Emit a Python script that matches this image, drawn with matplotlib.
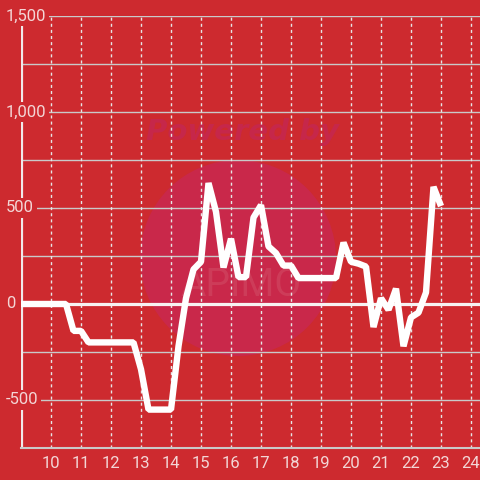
import matplotlib
matplotlib.use("Agg")
import matplotlib.pyplot as plt
from matplotlib.patches import Circle

# data: hour of day vs value, quarter-hour steps
hours = [9.0, 9.25, 9.5, 9.75, 10.0, 10.25, 10.5, 10.75, 11.0, 11.25,
         11.5, 11.75, 12.0, 12.25, 12.5, 12.75, 13.0, 13.25, 13.5, 13.75,
         14.0, 14.25, 14.5, 14.75, 15.0, 15.25, 15.5, 15.75, 16.0, 16.25,
         16.5, 16.75, 17.0, 17.25, 17.5, 17.75, 18.0, 18.25, 18.5, 18.75,
         19.0, 19.25, 19.5, 19.75, 20.0, 20.25, 20.5, 20.75, 21.0, 21.25,
         21.5, 21.75, 22.0, 22.25, 22.5, 22.75, 23.0]
values = [0, 0, 0, 0, 0, 0, 0, -140, -140, -200,
          -200, -200, -200, -200, -200, -200, -340, -550, -550, -550,
          -550, -220, 30, 180, 220, 630, 480, 190, 340, 140,
          140, 450, 515, 300, 265, 200, 200, 135, 135, 135,
          135, 135, 135, 320, 220, 210, 195, -120, 30, -30,
          80, -220, -70, -45, 60, 610, 510]

x_ticks = list(range(10, 25))
y_labels = [-500, 0, 500, 1000, 1500]
y_grid = [-500, -250, 250, 500, 750, 1000, 1250, 1500]

BG = "#cd2a2f"
GRID = "#c9c9c9"
TXT = "#f3d6d6"

plt.rcParams["font.family"] = ["Roboto", "DejaVu Sans"]

fig = plt.figure(figsize=(4.8, 4.8), dpi=100, facecolor=BG)
ax = fig.add_axes([21 / 480, 32 / 480, 459 / 480, 432 / 480])
ax.set_facecolor(BG)
ax.set_xlim(9, 24.3)
ax.set_ylim(-750, 1500)

# watermark
ax.add_patch(Circle((238 / 480, 1 - 258 / 480), 98 / 480, transform=fig.transFigure,
                    facecolor="#c9284a", edgecolor="none", zorder=0.5))
ax.text(243 / 480, 1 - 132 / 480, "Powered by", transform=fig.transFigure,
        ha="center", va="center", fontsize=21, fontweight="bold", style="italic",
        color="#c6274a", family="DejaVu Sans", zorder=0.6)
ax.text(241 / 480, 1 - 285 / 480, "APIMO", transform=fig.transFigure,
        ha="center", va="center", fontsize=28, color="#d4566c", alpha=0.45,
        zorder=0.6)

# grid
for v in y_grid:
    ax.axhline(v, color=GRID, lw=1, zorder=1)
for xt in x_ticks:
    ax.axvline(xt, color="#e6e6e6", lw=1, ls=(0, (2.2, 2.2)), zorder=1)

ax.axvline(9, color="#f1e9e9", lw=2.3, zorder=2)
ax.axhline(0, color="#f7f2f2", lw=2.3, zorder=2)

ax.plot(hours, values, color="white", lw=4.6, solid_joinstyle="bevel",
        solid_capstyle="butt", zorder=4)

for s in ["top", "right", "left"]:
    ax.spines[s].set_visible(False)
ax.spines["bottom"].set_color(GRID)
ax.spines["bottom"].set_linewidth(1.5)

ax.set_yticks([])
ax.set_xticks(x_ticks)
ax.set_xticklabels([str(t) for t in x_ticks])
ax.tick_params(axis="x", length=0, pad=6, labelsize=12, labelcolor=TXT)

for v in y_labels:
    ax.text(-15 / 459, v, f"{v:,}", transform=ax.get_yaxis_transform(),
            ha="left", va="center", fontsize=12, color=TXT, clip_on=False,
            zorder=5, bbox=dict(boxstyle="square,pad=0.15", facecolor=BG,
                                edgecolor="none"))

fig.savefig("out.png", dpi=100, facecolor=BG)
